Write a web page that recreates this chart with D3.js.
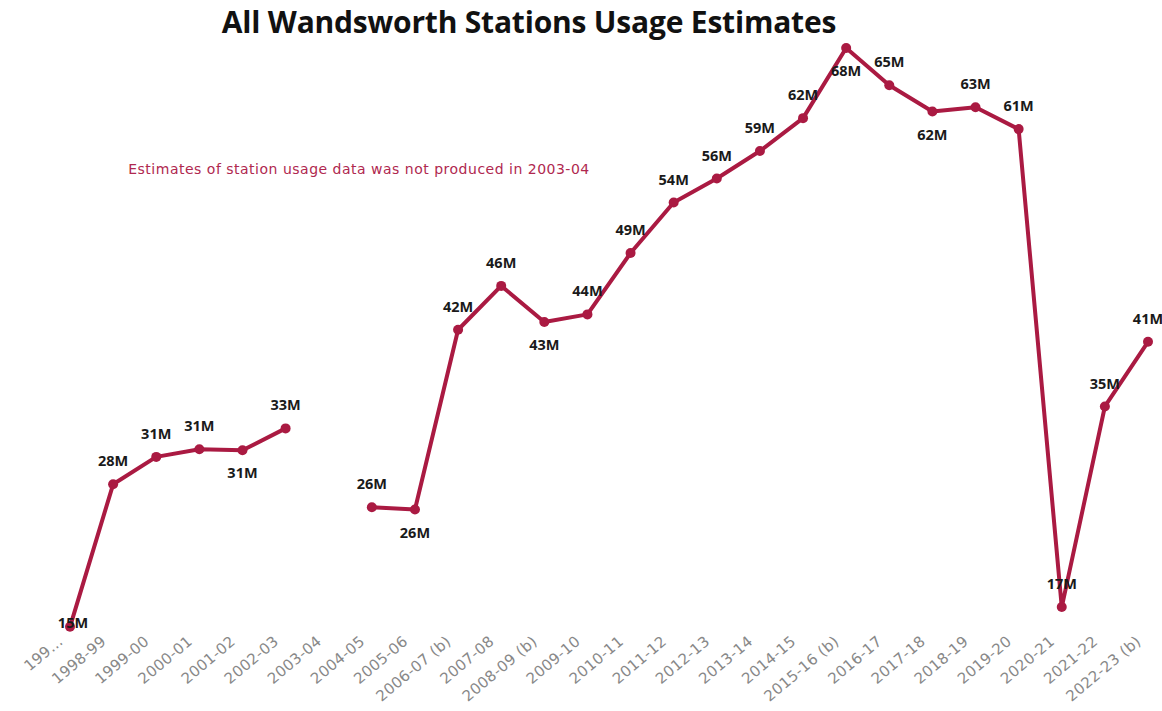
<!DOCTYPE html>
<html>
<head>
<meta charset="utf-8">
<script src="https://cdn.jsdelivr.net/npm/d3@7"></script>
<style>
  html, body { margin: 0; padding: 0; background: #ffffff; }
  svg { display: block; }
</style>
</head>
<body>
<div id="chart"></div>
<script>
// ---- data ----
const tickLabels = ["199…", "1998-99", "1999-00", "2000-01", "2001-02", "2002-03", "2003-04",
  "2004-05", "2005-06", "2006-07 (b)", "2007-08", "2008-09 (b)", "2009-10", "2010-11",
  "2011-12", "2012-13", "2013-14", "2014-15", "2015-16 (b)", "2016-17", "2017-18",
  "2018-19", "2019-20", "2020-21", "2021-22", "2022-23 (b)"];
// usage in millions (2003-04 not produced)
const usageMillions = [15.2, 28.2, 30.7, 31.4, 31.3, 33.3, null,
  26.1, 25.9, 42.3, 46.3, 43.0, 43.7, 49.3,
  53.9, 56.1, 58.6, 61.6, 68.0, 64.6, 62.2,
  62.6, 60.6, 17.0, 35.3, 41.2];
const titleText = "All Wandsworth Stations Usage Estimates";
const noteText = "Estimates of station usage data was not produced in 2003-04";

// ---- layout ----
const W = 1162, H = 711;
const lineColor = "#aa1a42";
// label placement: -1 above, 1 below, 0 on point
const labelSide = [0, -1, -1, -1, 1, -1, 0, -1, 1, -1, -1, 1, -1, -1,
  -1, -1, -1, -1, 1, -1, 1, -1, -1, -1, -1, -1];

const svg = d3.select("#chart").append("svg")
  .attr("width", W).attr("height", H);

const x = d3.scalePoint().domain(tickLabels).range([70, 1148]);
const y = d3.scaleLinear().domain([15, 68]).range([629, 48]);

// title
svg.append("text")
  .attr("x", 529).attr("y", 33)
  .attr("text-anchor", "middle")
  .attr("font-family", "'Open Sans', 'DejaVu Sans', sans-serif")
  .attr("font-weight", 700)
  .attr("font-size", 30)
  .attr("letter-spacing", -0.2)
  .attr("fill", "#111")
  .text(titleText);

// annotation
svg.append("text")
  .attr("x", 359).attr("y", 174)
  .attr("text-anchor", "middle")
  .attr("font-family", "'DejaVu Sans', Verdana, sans-serif")
  .attr("font-size", 14)
  .attr("letter-spacing", 0.5)
  .attr("fill", "#b0284f")
  .text(noteText);

// x axis
const axis = d3.axisBottom(x).tickSize(0).tickPadding(0);
const gx = svg.append("g").attr("transform", "translate(0,631)").call(axis);
gx.select(".domain").remove();
gx.selectAll("text")
  .attr("font-family", "'DejaVu Sans', Verdana, sans-serif")
  .attr("font-size", 15)
  .attr("letter-spacing", 0.3)
  .attr("fill", "#888888")
  .attr("text-anchor", "end")
  .attr("dy", "0.35em")
  .attr("y", 0)
  .attr("transform", "translate(-10,8) rotate(-40)");

const pts = usageMillions.map((v, i) => ({ cat: tickLabels[i], v, side: labelSide[i] }));

// line
const line = d3.line()
  .defined(d => d.v != null)
  .x(d => x(d.cat))
  .y(d => y(d.v));

svg.append("path")
  .datum(pts)
  .attr("fill", "none")
  .attr("stroke", lineColor)
  .attr("stroke-width", 4)
  .attr("stroke-linejoin", "round")
  .attr("stroke-linecap", "round")
  .attr("d", line);

const valid = pts.filter(d => d.v != null);

svg.append("g").selectAll("circle")
  .data(valid).join("circle")
  .attr("cx", d => x(d.cat))
  .attr("cy", d => y(d.v))
  .attr("r", 5)
  .attr("fill", lineColor);

// data labels
svg.append("g").selectAll("text")
  .data(valid).join("text")
  .attr("x", d => x(d.cat) + (d.side === 0 ? 3 : 0))
  .attr("y", d => y(d.v) + d.side * 23 + (d.side === 0 ? -4 : 0))
  .attr("dy", "0.35em")
  .attr("text-anchor", "middle")
  .attr("font-family", "'Open Sans', 'DejaVu Sans', sans-serif")
  .attr("font-weight", 700)
  .attr("font-size", 14.5)
  .attr("fill", "#1a1a1a")
  .text(d => Math.round(d.v) + "M");
</script>
</body>
</html>
